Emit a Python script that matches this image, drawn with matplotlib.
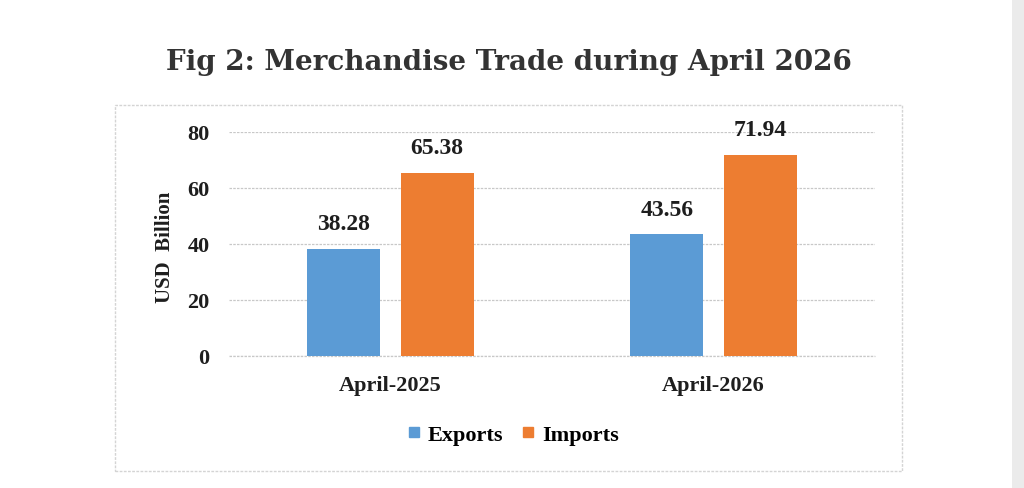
import numpy as np
import matplotlib
matplotlib.use('Agg')
import matplotlib.pyplot as plt
from matplotlib.patches import Rectangle, Patch

# data
periods = ['April-2025', 'April-2026']
exports = [38.28, 43.56]
imports = [65.38, 71.94]
yticks = [0, 20, 40, 60, 80]

blue = '#5B9BD5'
orange = '#ED7D31'
serif = 'Liberation Serif'
txt = '#1e1e1e'

fig = plt.figure(figsize=(10.24, 4.89), dpi=100)
fig.patch.set_facecolor('white')

# outer chart box and right gray strip
fig.patches.append(Rectangle((115/1024, 1-472/489), (902-115)/1024, (472-106)/489,
                             transform=fig.transFigure, fill=False,
                             edgecolor='#d4d4d4', linewidth=1.0, linestyle=(0, (2, 1))))
fig.patches.append(Rectangle((1012/1024, 0), 12/1024, 1, transform=fig.transFigure,
                             facecolor='#ebebeb', edgecolor='none'))

ax = fig.add_axes([229/1024, 1-357/489, (875-229)/1024, (357-133)/489])

x = np.arange(len(periods))
w = 0.226
off = 0.144
b1 = ax.bar(x - off, exports, w, color=blue, zorder=3)
b2 = ax.bar(x + off, imports, w, color=orange, zorder=3)

for bars, vals in [(b1, exports), (b2, imports)]:
    for r, v in zip(bars, vals):
        ax.annotate('%.2f' % v, (r.get_x() + r.get_width()/2, v),
                    xytext=(0, 18), textcoords='offset points',
                    ha='center', va='center', fontsize=17,
                    fontweight='bold', family=serif, color=txt)

ax.set_xlim(-0.5, 1.5)
ax.set_ylim(0, 80)
ax.set_yticks(yticks)
ax.set_xticks(x)
ax.set_xticklabels(periods)
ax.yaxis.grid(True, color='#c8c8c8', linestyle=(0, (2, 1)), linewidth=0.9, zorder=0)
ax.axhline(0, color='#c8c8c8', linestyle=(0, (2, 1)), linewidth=0.9, zorder=2, clip_on=False)
ax.tick_params(length=0)
ax.tick_params(axis='y', pad=14)
ax.tick_params(axis='x', pad=14)
for lab in ax.get_xticklabels() + ax.get_yticklabels():
    lab.set_fontfamily(serif)
    lab.set_fontweight('bold')
    lab.set_fontsize(16)
    lab.set_color(txt)
for s in ax.spines.values():
    s.set_visible(False)
ax.set_facecolor('none')

fig.text(165/1024, 1-247/489, 'USD  Billion', rotation=90, ha='center', va='center',
         fontsize=15, fontweight='bold', family=serif, color=txt)

fig.text(509/1024, 1-62/489, 'Fig 2: Merchandise Trade during April 2026',
         ha='center', va='center', fontsize=20, fontweight='bold',
         family='DejaVu Serif', color='#333333')

handles = [Patch(color=blue, label='Exports'), Patch(color=orange, label='Imports')]
fig.legend(handles=handles, loc='center', bbox_to_anchor=(514/1024, 1-436/489),
           ncol=2, frameon=False, handlelength=0.45, handleheight=0.3,
           handletextpad=0.4, columnspacing=0.9,
           prop={'family': serif, 'weight': 'bold', 'size': 16})

fig.savefig('out.png', dpi=100)
